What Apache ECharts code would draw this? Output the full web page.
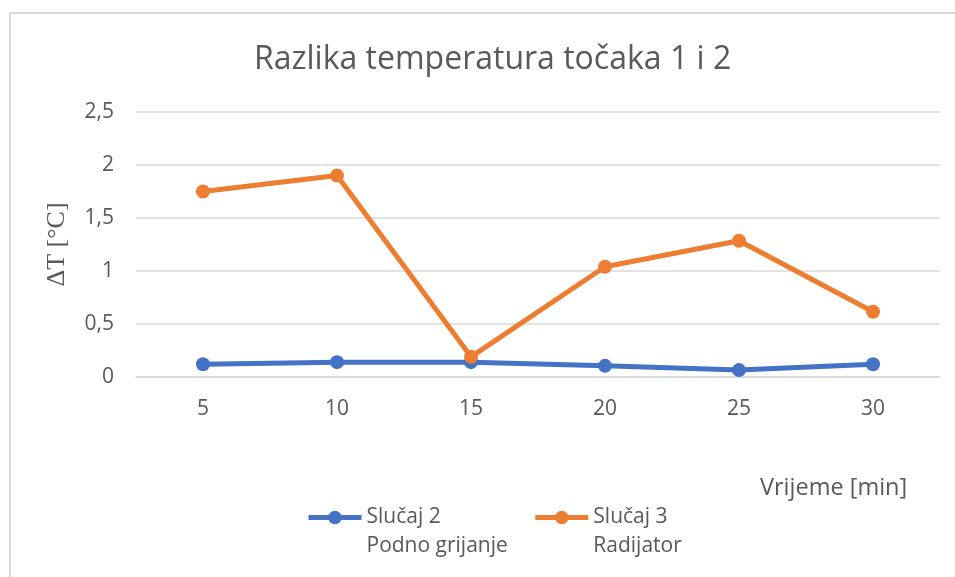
<!DOCTYPE html>
<html>
<head>
<meta charset="utf-8">
<style>
  html, body { margin: 0; padding: 0; background: #ffffff; }
  #chart { width: 955px; height: 577px; }
</style>
<script src="https://cdn.jsdelivr.net/npm/echarts@6/dist/echarts.min.js"></script>
</head>
<body>
<div id="chart"></div>
<script>
// Time points in minutes
const categories = ['5', '10', '15', '20', '25', '30'];
// Temperature difference between points 1 and 2, °C
const slucaj2 = [0.12, 0.14, 0.14, 0.105, 0.065, 0.12];
const slucaj3 = [1.75, 1.9, 0.19, 1.04, 1.285, 0.615];
const seriesNames = ['Slučaj 2\nPodno grijanje', 'Slučaj 3\nRadijator'];

const textColor = '#595959';
const gridColor = '#d9d9d9';
const uiFont = '"Open Sans", "Noto Sans", sans-serif';

const chart = echarts.init(document.getElementById('chart'), null, { renderer: 'canvas' });

function lineSeries(name, data, color) {
  return {
    name: name,
    type: 'line',
    data: data,
    symbol: 'circle',
    symbolSize: 14,
    lineStyle: { width: 5, color: color },
    itemStyle: { color: color },
    emphasis: { disabled: true },
    animation: false
  };
}

chart.setOption({
  backgroundColor: '#ffffff',
  animation: false,
  title: {
    text: 'Razlika temperatura točaka 1 i 2',
    left: 249,
    top: 39,
    textStyle: { fontFamily: uiFont, fontSize: 32, fontWeight: 'normal', color: textColor }
  },
  grid: { left: 136, right: 15, top: 112, bottom: 200 },
  xAxis: {
    type: 'category',
    data: categories,
    boundaryGap: true,
    axisLine: { lineStyle: { color: gridColor, width: 1.5 } },
    axisTick: { show: false },
    axisLabel: { color: textColor, fontFamily: uiFont, fontSize: 21, margin: 22 }
  },
  yAxis: {
    type: 'value',
    min: 0,
    max: 2.5,
    interval: 0.5,
    name: 'ΔT [°C]',
    nameLocation: 'middle',
    nameGap: 66,
    nameTextStyle: { fontFamily: '"Liberation Serif", "DejaVu Serif", serif', fontSize: 26, color: textColor },
    axisLine: { show: false },
    axisTick: { show: false },
    splitLine: { lineStyle: { color: gridColor, width: 1.5 } },
    axisLabel: {
      color: textColor, fontFamily: uiFont, fontSize: 21, margin: 22,
      formatter: v => String(v).replace('.', ',')
    }
  },
  legend: {
    data: seriesNames,
    left: 306,
    top: 474,
    padding: 0,
    itemWidth: 53,
    itemHeight: 17,
    itemGap: 25,
    selectedMode: false,
    lineStyle: { width: 5 },
    // a leading blank line keeps the icon level with the first text line
    formatter: name => '\n' + name,
    textStyle: { fontFamily: uiFont, fontSize: 21, color: textColor, lineHeight: 29 }
  },
  graphic: [
    {
      type: 'rect',
      shape: { x: 10, y: 13, width: 960, height: 580 },
      style: { fill: 'none', stroke: gridColor, lineWidth: 2 },
      silent: true
    },
    {
      type: 'text',
      left: 760,
      top: 476,
      style: { text: 'Vrijeme [min]', font: '23.5px ' + uiFont, fill: textColor }
    }
  ],
  series: [
    lineSeries(seriesNames[0], slucaj2, '#4472C4'),
    lineSeries(seriesNames[1], slucaj3, '#ED7D31')
  ]
});
</script>
</body>
</html>
